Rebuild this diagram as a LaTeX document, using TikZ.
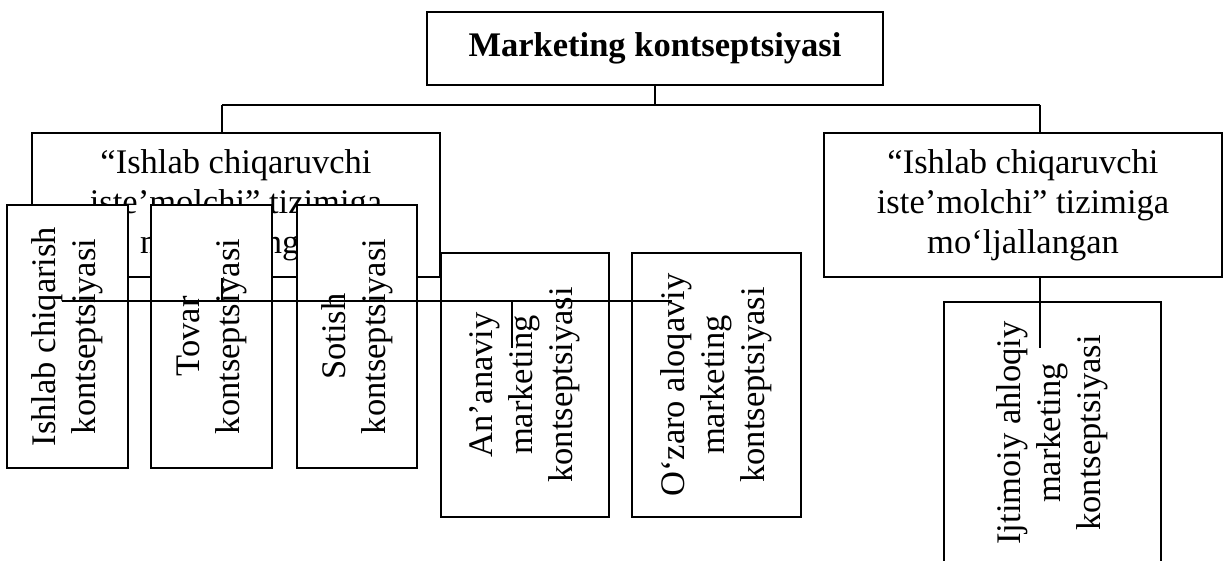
\documentclass[tikz,border=0pt]{standalone}
\usepackage{fontspec}
\setmainfont{Liberation Serif}
\newcommand{\boxfont}{\fontsize{17.25pt}{20pt}\selectfont}
\tikzset{
    box/.style={draw, rectangle, fill=white, line width=1pt, inner sep=0pt,
    	align=center, font=\boxfont}
}
\tikzset{
    upbox/.style={box, rotate=90}
}

\begin{document}
\begin{tikzpicture}[x=0.5pt, y=-0.5pt, line width=1pt]
	\useasboundingbox (0,0) rectangle (1223,561);
	\node [box, minimum width=228pt, minimum height=36.5pt, font=\boxfont\bfseries] (mk) at (655,48.5) {Marketing kontseptsiyasi};
	\node [box, minimum width=204pt, minimum height=72pt] (ish) at (236,205) {“Ishlab chiqaruvchi\\iste’molchi” tizimiga\\mo‘ljallangan};
	\node [box, minimum width=199pt, minimum height=72pt] (ist) at (1023,205) {“Ishlab chiqaruvchi\\iste’molchi” tizimiga\\mo‘ljallangan};
	\node [upbox, minimum width=132pt, minimum height=84pt] (ana) at (525,385) {An’anaviy\\marketing\\kontseptsiyasi};
	\node [upbox, minimum width=132pt, minimum height=84.5pt] (oza) at (716.5,385) {O‘zaro aloqaviy\\marketing\\kontseptsiyasi};
	\node [upbox, minimum width=131pt, minimum height=108.5pt] (ijt) at (1052.5,433) {Ijtimoiy ahloqiy\\marketing\\kontseptsiyasi};
	\node [upbox, minimum width=131.5pt, minimum height=60.5pt] (ich) at (67.5,336.5) {Ishlab chiqarish\\kontseptsiyasi};
	\node [upbox, minimum width=131.5pt, minimum height=60.5pt] (tov) at (211.5,336.5) {Tovar\\kontseptsiyasi};
	\node [upbox, minimum width=131.5pt, minimum height=60pt] (sot) at (357,336.5) {Sotish\\kontseptsiyasi};
	\coordinate (jl) at (222,105);
	\coordinate (jr) at (1040,105);
	\coordinate (bl) at (62,301);
	\coordinate (br) at (672,301);
	\coordinate (ta) at (512,348);
	\draw (mk.south) -- (mk.south |- jl); \draw (jl) -- (jr);
	\draw (jl) -- (jl |- ish.north); \draw (jr) -- (jr |- ist.north);
	\draw (bl) -- (br); \draw (jl |- ish.south) -- (jl |- bl);
	\draw (ta |- bl) -- (ta); \draw (jr |- ist.south) -- (jr |- ta);
\end{tikzpicture}
\end{document}
